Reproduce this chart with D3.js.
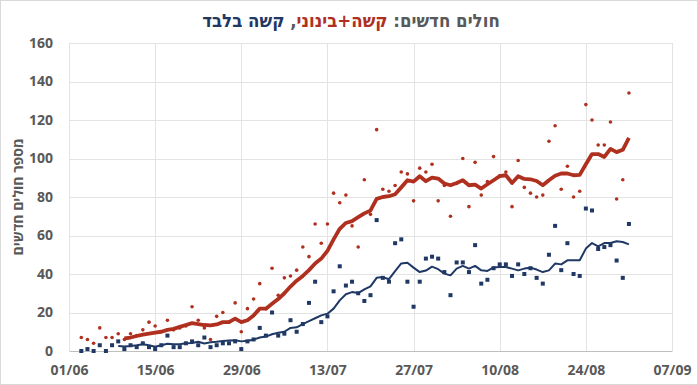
<!DOCTYPE html>
<html>
<head>
<meta charset="utf-8">
<script src="https://cdn.jsdelivr.net/npm/d3@7"></script>
<style>
  body { margin: 0; background: #fff; }
  svg { display: block; font-family: "Open Sans", "Liberation Sans", sans-serif; }
</style>
</head>
<body>
<svg width="698" height="385"></svg>
<script>
// daily values start on 03/06/2020
const startDay = "2020-06-03";
const tickLabels = ["01/06", "15/06", "29/06", "13/07", "27/07", "10/08", "24/08", "07/09"];
const yTicks = [0, 20, 40, 60, 80, 100, 120, 140, 160];

// severe + moderate, daily
const redDaily = [7, 6, 4, 12, 7, 7, 9, 6, 9, 8, 11, 15, 13, 10, 16, 11, 12, 13, 23, 16,
  12, 6, 18, 20, 15, 25, 10, 22, 27, 35, 22, 43, 29, 38, 39, 42, 54, 49, 66, 56,
  66, 82, 77, 81, 65, 54, 89, 71, 115, 84, 83, 86, 93, 92, 78, 95, 93, 97, 78, 86,
  70, 87, 100, 75, 98, 81, 88, 101, 91, 93, 75, 99, 85, 82, 80, 81, 109, 117, 84, 96,
  80, 83, 128, 120, 107, 107, 119, 79, 89, 134];

// severe only, daily
const blueDaily = [0, 1, 0, 3, 0, 3, 5, 1, 3, 2, 4, 2, 1, 3, 8, 2, 2, 4, 5, 3,
  7, 2, 3, 4, 4, 5, 1, 5, 6, 12, 8, 20, 8, 9, 16, 10, 14, 25, 36, 15,
  18, 31, 44, 34, 36, 30, 26, 29, 68, 38, 36, 56, 58, 36, 23, 36, 48, 49, 48, 41,
  29, 46, 46, 41, 55, 35, 37, 43, 45, 45, 39, 45, 40, 43, 38, 35, 50, 65, 42, 56,
  40, 39, 74, 73, 53, 54, 55, 47, 38, 66];

// 7 day averages (null where not drawn)
const redAvg = [null, null, null, null, null, null, null,
  6.5, 7, 7.8, 8.5, 9, 9.5, 10, 11, 11.5, 12.5, 13.5, 14.5, 14, 13.5, 13.3, 13.8, 15, 15,
  16.8, 15, 16, 18.5, 22, 22, 24.5, 27, 30, 33.5, 36.5, 39, 42, 45.5, 48, 52, 58, 63.5,
  66.5, 67.5, 69.5, 71.5, 73, 79, 80, 80.4, 81.4, 85, 88.7, 88, 90.8, 88.2, 90.1, 89.6,
  87, 86.1, 87.3, 88.7, 86.1, 86.4, 84.4, 86.6, 88.7, 90.8, 91.3, 87.3, 90.8, 89.4, 89.2,
  88.3, 86.1, 88.7, 91, 92.2, 92.2, 91.3, 91.5, 97, 102.3, 102.3, 100.8, 105, 103.3, 104.5, 110.7];

const blueAvg = [null, null, null, null, null, null,
  2.6, 2.3, 2.6, 3, 3.5, 3, 2.2, 3, 3.8, 3.5, 3.5, 4, 4.2, 4.8, 3.9, 4.5, 4.8, 5.2, 5.4,
  5.6, 5, 5.3, 5.9, 7, 7.5, 8.7, 9.5, 10, 12, 12.3, 14, 15.5, 17, 18.5, 19.4, 22, 26.3,
  29.5, 30.6, 30.1, 32, 33.6, 38, 38.4, 37.3, 41.5, 45.5, 45.8, 43.3, 41, 41.8, 43.8, 42.5,
  40.2, 39.3, 42.8, 44.2, 42.8, 44.2, 41.9, 41.6, 43.4, 43.6, 43.6, 42.8, 41.9, 42.8, 43.3,
  42.3, 41, 41.9, 45.4, 45, 47.1, 47.1, 47.1, 53.2, 56.1, 54.4, 56.1, 56.1, 57, 56.6, 55.4];

const red = "#b0301f";
const navy = "#1f3864";
const gray = "#595959";

const svg = d3.select("svg");
const width = +svg.attr("width");
const height = +svg.attr("height");
const margin = {top: 43, right: 26, bottom: 34, left: 69};

const parse = d3.timeParse("%d/%m/%Y");
const tickDates = tickLabels.map(t => parse(t + "/2020"));
const start = d3.timeParse("%Y-%m-%d")(startDay);
const days = redDaily.map((_, i) => d3.timeDay.offset(start, i));

const x = d3.scaleTime()
    .domain([tickDates[0], tickDates[tickDates.length - 1]])
    .range([margin.left, width - margin.right]);
const y = d3.scaleLinear()
    .domain([0, 160])
    .range([height - margin.bottom, margin.top]);

// border
svg.append("rect")
    .attr("x", 0.5).attr("y", 0.5)
    .attr("width", width - 1).attr("height", height - 1)
    .attr("fill", "none").attr("stroke", "#d9d9d9");

// grid
svg.append("g").selectAll("line")
    .data(yTicks.slice(1))
    .join("line")
    .attr("x1", margin.left).attr("x2", width - margin.right)
    .attr("y1", d => Math.round(y(d)) + 0.5).attr("y2", d => Math.round(y(d)) + 0.5)
    .attr("stroke", "#e3e3e3");
svg.append("g").selectAll("line")
    .data(tickDates)
    .join("line")
    .attr("x1", d => Math.round(x(d)) + 0.5).attr("x2", d => Math.round(x(d)) + 0.5)
    .attr("y1", margin.top).attr("y2", height - margin.bottom)
    .attr("stroke", "#e3e3e3");

// axes
const xAxis = svg.append("g")
    .attr("transform", `translate(0,${height - margin.bottom})`)
    .call(d3.axisBottom(x).tickValues(tickDates).tickFormat((d, i) => tickLabels[i]).tickSize(0).tickPadding(14));
xAxis.select(".domain").attr("stroke", "#bfbfbf");

const yAxis = svg.append("g")
    .attr("transform", `translate(${margin.left},0)`)
    .call(d3.axisLeft(y).tickValues(yTicks).tickSize(0).tickPadding(16));
yAxis.select(".domain").remove();

svg.selectAll(".tick text")
    .attr("fill", gray)
    .attr("font-size", 14)
    .attr("font-weight", "bold")
    .attr("font-family", "'Open Sans', sans-serif");

// y title
svg.append("text")
    .attr("transform", `translate(23,${(margin.top + height - margin.bottom) / 2}) rotate(-90)`)
    .attr("text-anchor", "middle")
    .attr("direction", "rtl")
    .attr("fill", gray)
    .attr("font-size", 14)
    .attr("font-weight", "bold")
    .text("מספר חולים חדשים");

// title
const title = svg.append("text")
    .attr("x", width / 2 + 2)
    .attr("y", 27)
    .attr("text-anchor", "middle")
    .attr("direction", "rtl")
    .attr("font-size", 18.5)
    .attr("font-weight", "bold")
    .attr("font-family", "'Liberation Sans Narrow', 'DejaVu Sans Condensed', sans-serif");
title.append("tspan").attr("fill", gray).text("חולים חדשים: ");
title.append("tspan").attr("fill", red).text("קשה+בינוני");
title.append("tspan").attr("fill", gray).text(", ");
title.append("tspan").attr("fill", navy).text("קשה בלבד");

// lines
const line = d3.line()
    .defined(d => d[1] != null)
    .x(d => x(d[0]))
    .y(d => y(d[1]));

svg.append("path")
    .datum(days.map((d, i) => [d, blueAvg[i]]))
    .attr("d", line)
    .attr("fill", "none")
    .attr("stroke", navy)
    .attr("stroke-width", 2)
    .attr("stroke-linejoin", "round");

svg.append("g").selectAll("rect")
    .data(days.map((d, i) => [d, blueDaily[i]]))
    .join("rect")
    .attr("x", d => x(d[0]) - 2)
    .attr("y", d => y(d[1]) - 2)
    .attr("width", 4).attr("height", 4)
    .attr("fill", navy);

svg.append("g").selectAll("circle")
    .data(days.map((d, i) => [d, redDaily[i]]))
    .join("circle")
    .attr("cx", d => x(d[0]))
    .attr("cy", d => y(d[1]))
    .attr("r", 1.8)
    .attr("fill", red);

svg.append("path")
    .datum(days.map((d, i) => [d, redAvg[i]]))
    .attr("d", line)
    .attr("fill", "none")
    .attr("stroke", red)
    .attr("stroke-width", 3.8)
    .attr("stroke-linejoin", "round");
</script>
</body>
</html>
